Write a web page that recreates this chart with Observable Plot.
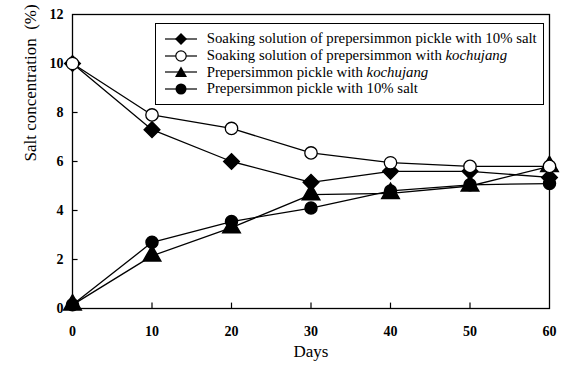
<!DOCTYPE html>
<html><head><meta charset="utf-8">
<script src="https://cdn.jsdelivr.net/npm/d3@7"></script>
<script src="https://cdn.jsdelivr.net/npm/@observablehq/plot@0.6"></script>
<style>
body{margin:0;background:#fff;}
#wrap{position:relative;width:566px;height:368px;font-family:"Liberation Serif",serif;}
#legend{position:absolute;left:155px;top:23px;width:389px;height:82px;border:1.3px solid #000;box-sizing:border-box;background:#fff;padding:6.5px 0 0 0;}
.row{display:flex;align-items:center;height:16.7px;font-size:14.8px;color:#000;}
.row svg{margin-left:8.7px;margin-right:10px;flex:none;}
</style></head>
<body><div id="wrap"></div>
<script>
const days = [0, 10, 20, 30, 40, 50, 60];
const soakSalt = [10, 7.3, 6.0, 5.15, 5.6, 5.6, 5.35];
const soakKoch = [10, 7.9, 7.35, 6.35, 5.95, 5.8, 5.8];
const pickleKoch = [0.15, 2.15, 3.3, 4.65, 4.7, 5.0, 5.8];
const pickleSalt = [0.15, 2.7, 3.55, 4.1, 4.8, 5.05, 5.1];
const xTicks = [0, 10, 20, 30, 40, 50, 60];
const yTicks = [0, 2, 4, 6, 8, 10, 12];
const seriesNames = [
  "Soaking solution of prepersimmon pickle with 10% salt",
  "Soaking solution of prepersimmon with <i>kochujang</i>",
  "Prepersimmon pickle with <i>kochujang</i>",
  "Prepersimmon pickle with 10% salt"
];

const mk = (vals) => days.map((d, i) => ({day: d, v: vals[i]}));
const S1 = mk(soakSalt), S2 = mk(soakKoch), S3 = mk(pickleKoch), S4 = mk(pickleSalt);

const chart = Plot.plot({
  width: 566, height: 368,
  marginLeft: 72, marginRight: 17, marginTop: 14, marginBottom: 60,
  style: {fontFamily: "Liberation Serif, serif", background: "#fff", color: "#000"},
  x: {domain: [0, 60]},
  y: {domain: [0, 12]},
  marks: [
    Plot.frame({stroke: "#000", strokeWidth: 1.3}),
    Plot.axisX({ticks: xTicks, tickSize: 0, tickPadding: 18, fontSize: 14, fontWeight: "bold", label: null}),
    Plot.axisY({ticks: yTicks, tickSize: 0, tickPadding: 9, fontSize: 14, fontWeight: "bold", label: null}),
    Plot.ruleX(xTicks.slice(1, -1), {x: d => d, y1: 0, y2: 0.22, stroke: "#000", strokeWidth: 1.2}),
    Plot.ruleY(yTicks.slice(1, -1), {y: d => d, x1: 0, x2: 0.7, stroke: "#000", strokeWidth: 1.2}),
    Plot.line(S1, {x: "day", y: "v", stroke: "#000", strokeWidth: 1.3}),
    Plot.line(S2, {x: "day", y: "v", stroke: "#000", strokeWidth: 1.3}),
    Plot.line(S3, {x: "day", y: "v", stroke: "#000", strokeWidth: 1.3}),
    Plot.line(S4, {x: "day", y: "v", stroke: "#000", strokeWidth: 1.3}),
    Plot.dot(S1, {x: "day", y: "v", symbol: "diamond2", r: 7, fill: "#000", stroke: "#000"}),
    Plot.dot(S3, {x: "day", y: "v", symbol: "triangle", r: 6.5, fill: "#000", stroke: "#000"}),
    Plot.dot(S4, {x: "day", y: "v", symbol: "circle", r: 6, fill: "#000", stroke: "#000"}),
    Plot.dot(S2, {x: "day", y: "v", symbol: "circle", r: 6.2, fill: "#fff", stroke: "#000", strokeWidth: 1.3}),
    Plot.text(["Days"], {frameAnchor: "bottom", dy: 48, fontSize: 17, text: d => d}),
    Plot.text(["Salt concentration  (%)"], {frameAnchor: "left", dx: -42, rotate: -90, fontSize: 17, text: d => d})
  ]
});
const wrap = document.getElementById("wrap");
wrap.appendChild(chart);

const sym = [
  '<path d="M16,1 L22,7 L16,13 L10,7 Z" fill="#000"/>',
  '<circle cx="16" cy="7" r="5.2" fill="#fff" stroke="#000" stroke-width="1.2"/>',
  '<path d="M16,1.5 L22,12 L10,12 Z" fill="#000"/>',
  '<circle cx="16" cy="7" r="5.5" fill="#000"/>'
];
const leg = document.createElement("div");
leg.id = "legend";
leg.innerHTML = seriesNames.map((n, i) =>
  `<div class="row"><svg width="32" height="14"><line x1="0" y1="7" x2="32" y2="7" stroke="#000" stroke-width="1.2"/>${sym[i]}</svg><span>${n}</span></div>`
).join("");
wrap.appendChild(leg);
</script></body></html>
